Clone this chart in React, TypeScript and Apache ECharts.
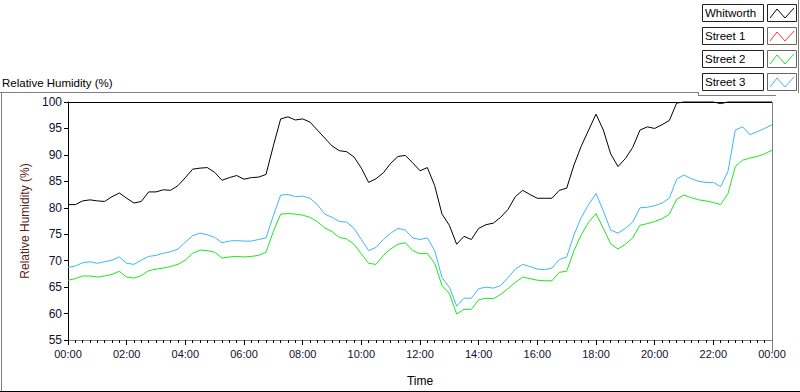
import React, { useEffect, useRef } from "react";
import * as echarts from "echarts";

// 15-minute samples from 00:00 to 24:00 (97 points)
const STEP_HOURS = 0.25;

const whitworth = [
  80.6, 80.6, 81.3, 81.5, 81.3, 81.2, 82.1, 82.8, 81.8, 80.9, 81.2, 83.0, 83.0, 83.4, 83.3, 84.2,
  85.7, 87.3, 87.5, 87.6, 86.7, 85.2, 85.7, 86.1, 85.4, 85.7, 85.8, 86.3, 91.7, 96.8, 97.2, 96.6,
  96.8,
  96.2, 94.7, 93.2, 91.7, 90.8, 90.6, 89.6, 87.5, 84.8, 85.5, 86.6, 88.4, 89.7, 89.9, 88.5, 87.0,
  87.6, 84.2, 78.8, 76.7, 73.1, 74.6, 74.0, 76.1, 76.8, 77.1, 78.2, 79.7, 82.1, 83.3, 82.5, 81.8,
  81.8, 81.8, 83.3, 83.7, 88.1, 91.7, 94.7, 97.7, 94.7, 90.2, 87.8, 89.3, 91.4, 94.7, 95.3, 95.0,
  95.7, 96.5, 99.8, 100, 100, 100, 100, 100, 99.7, 100, 100, 100, 100, 100, 100, 100,
];

const street1: number[] = [];

const street2 = [
  66.3, 66.6, 67.1, 67.1, 66.9, 67.1, 67.4, 68.0, 66.9, 66.7, 67.2, 68.1, 68.4, 68.6, 68.9, 69.3,
  70.1, 71.4, 72.0, 71.9, 71.6, 70.5, 70.7, 70.8, 70.7, 70.8, 71.0, 71.6, 75.5, 78.8, 78.9, 78.8,
  78.6,
  78.2, 77.4, 76.2, 75.5, 74.4, 74.1, 73.1, 71.3, 69.5, 69.3, 71.0, 72.2, 73.1, 73.4, 71.9, 71.3,
  71.4, 69.5, 65.3, 63.8, 59.9, 60.8, 60.8, 62.6, 62.9, 62.8, 63.6, 64.7, 65.9, 66.9, 66.6, 66.3,
  66.2, 66.2, 67.8, 68.0, 71.9, 74.9, 77.3, 78.9, 76.1, 73.2, 72.2, 73.1, 74.3, 76.7, 77.0, 77.4,
  77.9, 78.8, 81.6, 82.4, 81.9, 81.5, 81.3, 81.0, 80.6, 82.7, 87.8, 89.0, 89.4, 89.7, 90.2, 90.9,
];

const street3 = [
  68.7, 69.0, 69.6, 69.8, 69.5, 69.8, 70.1, 70.7, 69.5, 69.3, 70.1, 70.8, 71.0, 71.4, 71.7, 72.2,
  73.5, 74.7, 75.2, 74.9, 74.4, 73.4, 73.7, 73.8, 73.7, 73.7, 74.0, 74.3, 78.5, 82.4, 82.5, 82.1,
  82.2,
  81.8, 80.6, 78.8, 78.2, 77.4, 77.3, 76.1, 74.0, 71.9, 72.5, 74.0, 75.2, 76.1, 75.8, 74.3, 74.0,
  74.3, 71.9, 66.8, 65.0, 61.4, 62.9, 62.9, 64.7, 65.0, 64.8, 65.3, 66.8, 68.4, 69.3, 68.9, 68.4,
  68.3, 68.6, 70.2, 70.7, 74.9, 78.2, 80.6, 82.7, 79.4, 75.8, 75.2, 76.1, 77.3, 80.0, 80.1, 80.4,
  80.9, 81.8, 85.4, 86.2, 85.5, 85.0, 84.8, 84.8, 84.0, 86.9, 94.7, 95.3, 93.8, 94.4, 95.0, 95.7,
];

const seriesNames = ["Whitworth", "Street 1", "Street 2", "Street 3"];
const seriesColors = ["#000000", "#ff3a3a", "#1ee61e", "#3cb8f5"];
const seriesData = [whitworth, street1, street2, street3];

const chartTitle = "Relative Humidity (%)";
const yAxisName = "Relative Humidity (%)";
const xAxisName = "Time";

const FONT = "Liberation Sans, Arial, sans-serif";

function toPairs(values: number[]): [number, number][] {
  return values.map((v, i) => [i * STEP_HOURS, v]);
}

function fmtHour(v: number): string {
  const h = Math.round(v) % 24;
  return (h < 10 ? "0" : "") + h + ":00";
}

export default function App() {
  const ref = useRef<HTMLDivElement>(null);

  useEffect(() => {
    document.body.style.margin = "0";
    if (!ref.current) return;
    const chart = echarts.init(ref.current, null, { renderer: "svg" });

    const L = 68, R = 772, T = 102, B = 352;

    const legendGraphics: any[] = [];
    seriesNames.forEach((name, i) => {
      const y0 = 4 + i * 23;
      legendGraphics.push({
        type: "rect",
        shape: { x: 702.5, y: y0 + 0.5, width: 61, height: 17 },
        style: { fill: "#ffffff", stroke: "#222222", lineWidth: 1 },
      });
      legendGraphics.push({
        type: "text",
        x: 705,
        y: y0 + 9,
        style: {
          text: name,
          fill: "#000000",
          font: `11.5px ${FONT}`,
          verticalAlign: "middle",
        },
      });
      legendGraphics.push({
        type: "rect",
        shape: { x: 767.5, y: y0 + 0.5, width: 29, height: 17 },
        style: { fill: "#ffffff", stroke: i === 0 ? "#222222" : "#666666", lineWidth: 1 },
      });
      legendGraphics.push({
        type: "polyline",
        shape: {
          points: [
            [770, y0 + 14],
            [777, y0 + 5],
            [785, y0 + 14],
            [794, y0 + 4],
          ],
        },
        style: { stroke: seriesColors[i], lineWidth: 1, fill: "none" },
      });
    });

    chart.setOption({
      animation: false,
      backgroundColor: "#ffffff",
      title: {
        text: chartTitle,
        left: 2,
        top: 77,
        padding: 0,
        textStyle: { fontFamily: FONT, fontSize: 11.5, fontWeight: "normal", color: "#000000" },
      },
      grid: { left: L, right: 800 - R, top: T, bottom: 392 - B, containLabel: false },
      xAxis: {
        type: "value",
        min: 0,
        max: 24,
        interval: 2,
        name: xAxisName,
        nameLocation: "middle",
        nameGap: 35,
        nameTextStyle: { fontFamily: FONT, fontSize: 12, color: "#000000" },
        axisLine: { show: true, lineStyle: { color: "#808080", width: 1 } },
        axisTick: { show: true, length: 5, lineStyle: { color: "#000000" } },
        minorTick: { show: true, splitNumber: 8, length: 3, lineStyle: { color: "#000000" } },
        splitLine: { show: false },
        axisLabel: {
          formatter: (v: number) => fmtHour(v),
          fontFamily: FONT,
          fontSize: 11,
          color: "#101030",
          margin: 8,
          showMinLabel: true,
          showMaxLabel: true,
        },
      },
      yAxis: {
        type: "value",
        min: 55,
        max: 100,
        interval: 5,
        name: yAxisName,
        nameLocation: "middle",
        nameRotate: 90,
        nameGap: 24,
        nameTextStyle: { fontFamily: FONT, fontSize: 12, color: "#5a1a1a" },
        axisLine: { show: true, lineStyle: { color: "#000000", width: 1 } },
        axisTick: { show: true, length: 4, lineStyle: { color: "#000000" } },
        splitLine: { show: false },
        axisLabel: {
          fontFamily: FONT,
          fontSize: 12,
          color: "#101030",
          margin: 6,
        },
      },
      series: seriesNames.map((name, i) => ({
        name,
        type: "line",
        data: toPairs(seriesData[i]),
        symbol: "none",
        lineStyle: { color: seriesColors[i], width: 1 },
        itemStyle: { color: seriesColors[i] },
        clip: false,
        z: 10 - i,
      })),
      graphic: [
        // plot frame: top black, right gray
        { type: "line", shape: { x1: L, y1: T + 0.5, x2: R, y2: T + 0.5 }, style: { stroke: "#000000", lineWidth: 1 }, z: 1 },
        { type: "line", shape: { x1: R + 0.5, y1: T, x2: R + 0.5, y2: B }, style: { stroke: "#808080", lineWidth: 1 }, z: 1 },
        // outer panel frame
        { type: "line", shape: { x1: 0, y1: 92.5, x2: 698, y2: 92.5 }, style: { stroke: "#808080", lineWidth: 1 } },
        { type: "line", shape: { x1: 698.5, y1: 92, x2: 698.5, y2: 95 }, style: { stroke: "#808080", lineWidth: 1 } },
        { type: "line", shape: { x1: 698, y1: 95.5, x2: 776, y2: 95.5 }, style: { stroke: "#808080", lineWidth: 1 } },
        { type: "line", shape: { x1: 1.5, y1: 92, x2: 1.5, y2: 392 }, style: { stroke: "#808080", lineWidth: 1 } },
        { type: "line", shape: { x1: 0, y1: 391.5, x2: 800, y2: 391.5 }, style: { stroke: "#000000", lineWidth: 1 } },
        { type: "line", shape: { x1: 798.5, y1: 0, x2: 798.5, y2: 93 }, style: { stroke: "#808080", lineWidth: 1 } },
        ...legendGraphics,
      ],
    });

    return () => chart.dispose();
  }, []);

  return <div ref={ref} style={{ width: 800, height: 392 }} />;
}
